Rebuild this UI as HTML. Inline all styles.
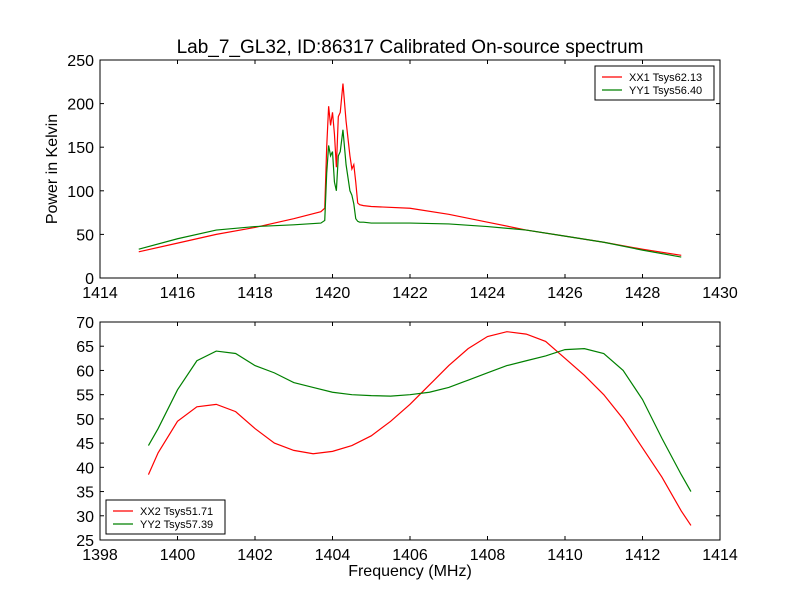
<!DOCTYPE html>
<html><head><meta charset="utf-8"><style>
html,body{margin:0;padding:0;background:#fff;}
svg{display:block;font-family:"Liberation Sans","DejaVu Sans",sans-serif;}
</style></head><body>
<svg id="chart" width="800" height="600" viewBox="0 0 800 600" xmlns="http://www.w3.org/2000/svg">
<rect width="800" height="600" fill="#fff"/>
<text x="410" y="53" font-size="19" text-anchor="middle">Lab_7_GL32, ID:86317 Calibrated On-source spectrum</text>
<text transform="translate(57,169) rotate(-90)" font-size="16" text-anchor="middle">Power in Kelvin</text>
<text x="410" y="576" font-size="16" text-anchor="middle">Frequency (MHz)</text>
<g id="top"></g><g id="bot"></g>
</svg>
<script>
const topFreq=[1415,1416,1417,1418,1419,1419.7,1419.8,1419.85,1419.9,1419.95,1420.0,1420.05,1420.1,1420.15,1420.2,1420.27,1420.35,1420.45,1420.5,1420.55,1420.6,1420.65,1420.7,1420.8,1421,1422,1423,1424,1425,1426,1427,1428,1429];
const xx1=[30,40,50,58,68,76,80,150,197,175,190,165,127,185,190,223,180,140,125,130,110,86,84,83,82,80,73,64,55,48,41,33,26];
const yy1=[33,45,55,59,61,63,66,120,152,140,145,110,100,140,145,170,130,100,95,85,68,65,64,64,63,63,62,59,55,48,41,32,24];
const topXTicks=[1414,1416,1418,1420,1422,1424,1426,1428,1430];
const topYTicks=[0,50,100,150,200,250];
const botFreq=[1399.25,1399.5,1400,1400.5,1401,1401.5,1402,1402.5,1403,1403.5,1404,1404.5,1405,1405.5,1406,1406.5,1407,1407.5,1408,1408.5,1409,1409.5,1410,1410.5,1411,1411.5,1412,1412.5,1413,1413.25];
const xx2=[38.5,43,49.5,52.5,53,51.5,48,45,43.5,42.8,43.3,44.5,46.5,49.5,53,57,61,64.5,67,68,67.5,66,62.5,59,55,50,44,38,31,28];
const yy2=[44.5,48,56,62,64,63.5,61,59.5,57.5,56.5,55.5,55,54.8,54.7,55,55.5,56.5,58,59.5,61,62,63,64.3,64.5,63.5,60,54,46,38.5,35];
const botXTicks=[1398,1400,1402,1404,1406,1408,1410,1412,1414];
const botYTicks=[25,30,35,40,45,50,55,60,65,70];
const NS="http://www.w3.org/2000/svg";
function mk(p,t,a){const e=document.createElementNS(NS,t);for(const k in a)e.setAttribute(k,a[k]);p.appendChild(e);return e;}
function panel(g,L,T,R,B,xmin,xmax,ymin,ymax,xt,yt,fr,s1,s2,names,legPos){
 const sx=v=>L+(v-xmin)/(xmax-xmin)*(R-L), sy=v=>B-(v-ymin)/(ymax-ymin)*(B-T);
 [[s1,'#ff0000','series-red'],[s2,'#008000','series-green']].forEach(([s,c,n])=>{
  const p=mk(g,'polyline',{points:fr.map((f,i)=>sx(f).toFixed(2)+','+sy(s[i]).toFixed(2)).join(' '),fill:'none',stroke:c,'stroke-width':1.2});
  
  
 });
 const fr2=mk(g,'rect',{x:L,y:T,width:R-L,height:B-T,fill:'none',stroke:'#000','stroke-width':1});
 
 
 xt.forEach(v=>{const x=sx(v);
  mk(g,'line',{x1:x,x2:x,y1:B,y2:B-4,stroke:'#000'});mk(g,'line',{x1:x,x2:x,y1:T,y2:T+4,stroke:'#000'});
  const t=mk(g,'text',{x:x,y:B+20,'font-size':16,'text-anchor':'middle'});t.textContent=v;
  
  });
 yt.forEach(v=>{const y=sy(v);
  mk(g,'line',{x1:L,x2:L+4,y1:y,y2:y,stroke:'#000'});mk(g,'line',{x1:R,x2:R-4,y1:y,y2:y,stroke:'#000'});
  const t=mk(g,'text',{x:L-6,y:y+6,'font-size':16,'text-anchor':'end'});t.textContent=v;
  
  });
 const lg=mk(g,'g',{});
 
 
 const [lx,ly]=legPos;
 mk(lg,'rect',{x:lx,y:ly,width:119,height:34,fill:'#fff',stroke:'#000'});
 ['#ff0000','#008000'].forEach((c,i)=>{const y=ly+11+i*13;
  mk(lg,'line',{x1:lx+7,x2:lx+27,y1:y,y2:y,stroke:c,'stroke-width':1.2});
  const t=mk(lg,'text',{x:lx+34,y:y+4,'font-size':11});t.textContent=names[i];
  
  });
}
panel(document.getElementById('top'),100,60,720,278,1414,1430,0,250,topXTicks,topYTicks,topFreq,xx1,yy1,['XX1 Tsys62.13','YY1 Tsys56.40'],[595,66]);
panel(document.getElementById('bot'),100,322,720,540,1398,1414,25,70,botXTicks,botYTicks,botFreq,xx2,yy2,['XX2 Tsys51.71','YY2 Tsys57.39'],[106,500]);
</script>
</body></html>
